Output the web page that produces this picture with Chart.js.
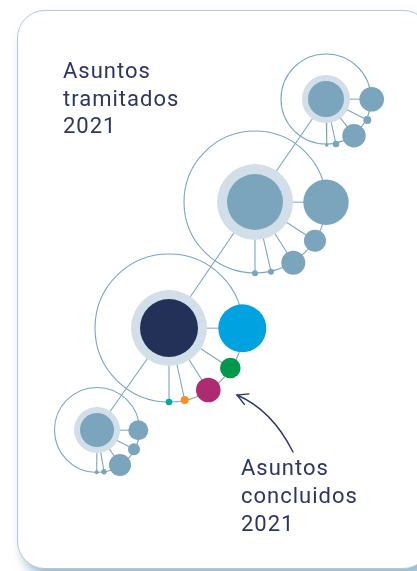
<!DOCTYPE html>
<html>
<head>
<meta charset="utf-8">
<script src="https://cdn.jsdelivr.net/npm/chart.js@4.4.1/dist/chart.umd.min.js"></script>
<style>
  html, body { margin: 0; padding: 0; background: #fff; overflow: hidden; }
  #wrap { position: relative; width: 417px; height: 571px; }
  #card {
    position: absolute; left: 17px; top: 10px; width: 412px; height: 557px;
    border: 1.3px solid #b7c8d7; border-radius: 28px; background: #fff;
    box-shadow: 6px 8px 12px rgba(80, 140, 172, 0.6);
  }
  canvas { position: absolute; left: 0; top: 0; }
  .lbl {
    position: absolute; font-family: Roboto, sans-serif; font-size: 22px;
    letter-spacing: 1px; color: #2b3664; line-height: 27.5px; white-space: pre;
  }
</style>
</head>
<body>
<div id="wrap">
  <div id="card"></div>
  <canvas id="chart" width="417" height="571"></canvas>
  <div class="lbl" style="left:63px; top:57px;">Asuntos
tramitados
2021</div>
  <div class="lbl" style="left:241px; top:454px; line-height:28px;">Asuntos
concluidos
2021</div>
</div>
<script>
// cluster centres (chart units) and sizes
const clusterX = [326, 255, 169, 97];
const clusterY = [99, 202, 328, 430];
const coreR = [18, 28, 29, 17];
const haloR = [24, 38, 38, 23];
const ringR = [45, 71, 74, 42.5];
const coreColors = ["#7aa5bc", "#7aa5bc", "#233159", "#7aa5bc"];

// satellites of each cluster
const satX = [
  [371.7, 367.3, 354, 336, 326.7],
  [326, 315, 293.3, 271, 255],
  [242.3, 230.3, 208.3, 184.7, 169],
  [138.3, 134, 120, 104, 96.7]
];
const satY = [
  [99.3, 120, 135.7, 144, 145],
  [202.3, 240.7, 262.7, 271.7, 273.3],
  [328.3, 368, 390, 400, 402],
  [430.3, 449.3, 465, 471.7, 472.3]
];
const satR = [
  [12.3, 4, 11.7, 3.3, 1.8],
  [22.7, 11, 12, 3, 3],
  [24, 10.3, 12.3, 4, 3.3],
  [10, 6, 11, 2.7, 2]
];
const satColors = [
  ["#7aa5bc", "#7aa5bc", "#7aa5bc", "#7aa5bc", "#7aa5bc"],
  ["#7aa5bc", "#7aa5bc", "#7aa5bc", "#7aa5bc", "#7aa5bc"],
  ["#00a3df", "#00984a", "#ae2a71", "#f6921e", "#00ab9e"],
  ["#7aa5bc", "#7aa5bc", "#7aa5bc", "#7aa5bc", "#7aa5bc"]
];

// arrow pointing at the coloured cluster
const arrowFrom = [293, 452];
const arrowVia = [272, 410];
const arrowTo = [237, 395];

const lineColor = "#7ba6bd";
let datasets = [];

// bubbles should not shrink the plot area
Chart.BubbleController.prototype.getMaxOverflow = function () { return false; };

// spine through cluster centres
datasets.push({
  type: 'line',
  data: clusterX.map((x, i) => ({x: x, y: clusterY[i]})),
  borderColor: lineColor, borderWidth: 1.1, pointRadius: 0, order: 6
});

// spokes
clusterX.forEach((cx, i) => {
  satX[i].forEach((sx, j) => {
    datasets.push({
      type: 'line',
      data: [{x: cx, y: clusterY[i]}, {x: sx, y: satY[i][j]}],
      borderColor: lineColor, borderWidth: 1.1, pointRadius: 0, order: 6
    });
  });
});

// outer rings
datasets.push({
  type: 'bubble',
  data: clusterX.map((x, i) => ({x: x, y: clusterY[i], r: ringR[i]})),
  backgroundColor: 'rgba(0,0,0,0)', borderColor: lineColor, borderWidth: 1.1, order: 5
});

// halos
datasets.push({
  type: 'bubble',
  data: clusterX.map((x, i) => ({x: x, y: clusterY[i], r: haloR[i]})),
  backgroundColor: '#d2dfe8', borderWidth: 0, order: 4
});

// cores
datasets.push({
  type: 'bubble',
  data: clusterX.map((x, i) => ({x: x, y: clusterY[i], r: coreR[i]})),
  backgroundColor: coreColors, borderWidth: 0, order: 3
});

// satellites
satX.forEach((xs, i) => {
  datasets.push({
    type: 'bubble',
    data: xs.map((x, j) => ({x: x, y: satY[i][j], r: satR[i][j]})),
    backgroundColor: satColors[i], borderWidth: 0, order: 2
  });
});

const arrowPlugin = {
  id: 'arrow',
  afterDatasetsDraw(chart) {
    const ctx = chart.ctx;
    const sx = chart.scales.x, sy = chart.scales.y;
    const p = v => [sx.getPixelForValue(v[0]), sy.getPixelForValue(v[1])];
    const a = p(arrowFrom), b = p(arrowVia), c = p(arrowTo);
    ctx.save();
    ctx.strokeStyle = '#2b3664';
    ctx.lineWidth = 1.4;
    ctx.lineCap = 'round';
    ctx.beginPath();
    ctx.moveTo(a[0], a[1]);
    ctx.quadraticCurveTo(b[0], b[1], c[0], c[1]);
    ctx.stroke();
    // head
    const ang = Math.atan2(c[1] - b[1], c[0] - b[0]);
    const len = 12;
    ctx.beginPath();
    ctx.moveTo(c[0] - len * Math.cos(ang - 0.5), c[1] - len * Math.sin(ang - 0.5));
    ctx.lineTo(c[0], c[1]);
    ctx.lineTo(c[0] - len * Math.cos(ang + 0.5), c[1] - len * Math.sin(ang + 0.5));
    ctx.stroke();
    ctx.restore();
  }
};

new Chart(document.getElementById('chart'), {
  data: { datasets: datasets },
  options: {
    responsive: false,
    animation: false,
    events: [],
    layout: { padding: 0 },
    plugins: { legend: { display: false }, tooltip: { enabled: false } },
    elements: { line: { tension: 0 } },
    datasets: { bubble: { clip: false }, line: { clip: false } },
    scales: {
      x: { type: 'linear', min: 0, max: 417, display: false },
      y: { type: 'linear', min: 0, max: 571, reverse: true, display: false }
    }
  },
  plugins: [arrowPlugin]
});
</script>
</body>
</html>
